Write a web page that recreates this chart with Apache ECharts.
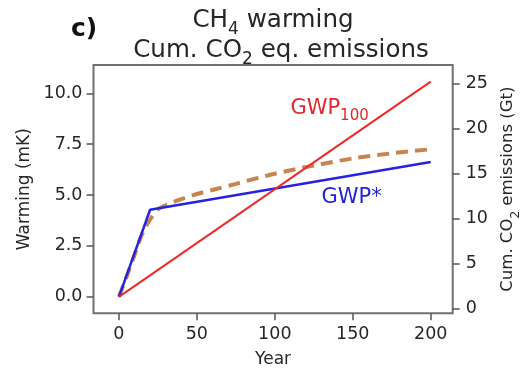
<!DOCTYPE html>
<html>
<head>
<meta charset="utf-8">
<script src="https://cdn.jsdelivr.net/npm/echarts@6/dist/echarts.min.js"></script>
<style>
  html, body { margin: 0; padding: 0; background: #ffffff; }
  #chart { width: 520px; height: 368px; }
</style>
</head>
<body>
<div id="chart"></div>
<script>
// ---- data ----
const years = [0, 5, 10, 15, 20, 25, 30, 40, 50, 60, 75, 100, 125, 150, 175, 200];
const ch4Warming = [0, 1.0, 2.05, 3.1, 3.8, 4.3, 4.5, 4.8, 5.05, 5.25, 5.55, 6.05, 6.45, 6.8, 7.05, 7.25];
const gwpStarYears = [0, 20, 200];
const gwpStarValues = [0, 4.28, 6.62];
const gwp100Years = [0, 200];
const gwp100Values = [0, 10.57];
const xTicks = [0, 50, 100, 150, 200];
const leftTicks = [0, 2.5, 5, 7.5, 10];
const rightTicks = [0, 5, 10, 15, 20, 25];
const labelGwp100 = { x: 110, y: 9.2 };
const labelGwpStar = { x: 130, y: 4.88 };

const FONT = 'DejaVu Sans';
const TXT = '#262626';

const pair = (xs, ys) => xs.map((x, i) => [x, ys[i]]);

const chart = echarts.init(document.getElementById('chart'), null, { renderer: 'canvas' });

const subRich = (size, color, sub, pad) => ({
  n: { fontFamily: FONT, fontSize: size, fontWeight: 'normal', color: color, lineHeight: size + 4, verticalAlign: 'top' },
  s: { fontFamily: FONT, fontSize: sub, fontWeight: 'normal', color: color, lineHeight: sub, padding: [pad, 0, 0, 0], verticalAlign: 'top' }
});

const option = {
  animation: false,
  backgroundColor: '#ffffff',
  title: [
    {
      text: '{n|CH}{s|4}{n| warming}',
      left: 268, top: 3, textAlign: 'center',
      textStyle: { fontWeight: 'normal', rich: subRich(24.6, TXT, 17, 13) }
    },
    {
      text: '{n|Cum. CO}{s|2}{n| eq. emissions}',
      left: 276, top: 33, textAlign: 'center',
      textStyle: { fontWeight: 'normal', rich: subRich(24.6, TXT, 17, 13) }
    },
    {
      text: 'c)',
      left: 66, top: 12,
      textStyle: { fontFamily: FONT, fontSize: 25, fontWeight: 'bold', color: '#111' }
    }
  ],
  grid: {
    left: 93.5, right: 67.3, top: 65, bottom: 54.7,
    outerBoundsMode: 'none', containLabel: false,
    show: true, borderColor: '#707070', borderWidth: 2, backgroundColor: 'transparent'
  },
  xAxis: {
    type: 'value', min: -16.3, max: 214.1,
    name: 'Year', nameLocation: 'middle', nameGap: 38,
    nameTextStyle: { fontFamily: FONT, fontSize: 17, color: TXT },
    axisLine: { show: false, onZero: false },
    axisTick: { show: true, length: 7, inside: false, customValues: xTicks, lineStyle: { color: '#555', width: 1.5 } },
    axisLabel: { customValues: xTicks, margin: 12, fontFamily: FONT, fontSize: 17.5, color: TXT },
    splitLine: { show: false }
  },
  yAxis: [
    {
      type: 'value', position: 'left', min: -0.81, max: 11.39,
      name: 'Warming (mK)', nameLocation: 'middle', nameGap: 58, nameRotate: 90,
      nameTextStyle: { fontFamily: FONT, fontSize: 17, color: TXT },
      axisLine: { show: false, onZero: false },
      axisTick: { show: true, length: 7, customValues: leftTicks, lineStyle: { color: '#555', width: 1.5 } },
      axisLabel: { customValues: leftTicks, margin: 11, fontFamily: FONT, fontSize: 17.5, color: TXT,
                   formatter: v => Number(v).toFixed(1) },
      splitLine: { show: false }
    },
    {
      type: 'value', position: 'right', min: -0.52, max: 27.03,
      name: '{n|Cum. CO}{s|2}{n| emissions (Gt)}', nameLocation: 'middle', nameGap: 37, nameRotate: 90,
      nameTextStyle: {
        rich: {
          n: { fontFamily: FONT, fontSize: 16.5, color: TXT, lineHeight: 20, verticalAlign: 'top' },
          s: { fontFamily: FONT, fontSize: 12, color: TXT, lineHeight: 12, padding: [11, 0, 0, 0], verticalAlign: 'top' }
        }
      },
      axisLine: { show: false, onZero: false },
      axisTick: { show: true, length: 7, customValues: rightTicks, lineStyle: { color: '#555', width: 1.5 } },
      axisLabel: { customValues: rightTicks, margin: 13, fontFamily: FONT, fontSize: 17.5, color: TXT },
      splitLine: { show: false }
    }
  ],
  series: [
    {
      name: 'CH4 warming', type: 'line', yAxisIndex: 0,
      data: pair(years, ch4Warming), smooth: 0.3, showSymbol: false, symbol: 'none',
      lineStyle: { color: '#c9834d', width: 4, type: [12, 7] }, z: 2
    },
    {
      name: 'GWP*', type: 'line', yAxisIndex: 0,
      data: pair(gwpStarYears, gwpStarValues), showSymbol: false, symbol: 'none',
      lineStyle: { color: '#2424e0', width: 2.5 }, z: 3,
      markPoint: {
        symbol: 'circle', symbolSize: 0, silent: true,
        data: [{ coord: [labelGwpStar.x, labelGwpStar.y] }],
        label: {
          show: true, position: 'right', distance: 0, formatter: 'GWP*',
          fontFamily: FONT, fontSize: 21, color: '#2424d6'
        }
      }
    },
    {
      name: 'GWP100', type: 'line', yAxisIndex: 0,
      data: pair(gwp100Years, gwp100Values), showSymbol: false, symbol: 'none',
      lineStyle: { color: '#ec2a2a', width: 2 }, z: 4,
      markPoint: {
        symbol: 'circle', symbolSize: 0, silent: true,
        data: [{ coord: [labelGwp100.x, labelGwp100.y] }],
        label: {
          show: true, position: 'right', distance: 0, formatter: '{n|GWP}{s|100}',
          rich: {
            n: { fontFamily: FONT, fontSize: 21, color: '#e3282c', lineHeight: 24, verticalAlign: 'top' },
            s: { fontFamily: FONT, fontSize: 15, color: '#e3282c', lineHeight: 15, padding: [11, 0, 0, 0], verticalAlign: 'top' }
          }
        }
      }
    }
  ]
};

chart.setOption(option);
</script>
</body>
</html>
